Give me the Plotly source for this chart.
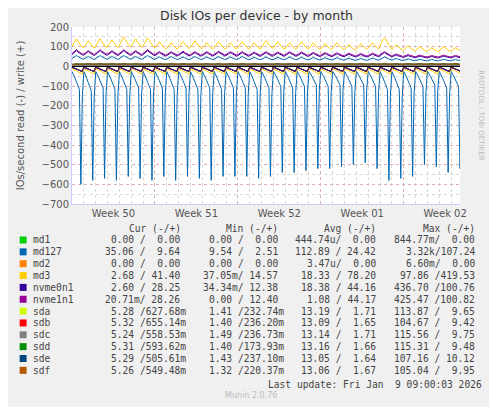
import numpy as np
import pandas as pd
import plotly.graph_objects as go

# daily values (33 days, Dec 8 -> Jan 9)
days = pd.date_range("2025-12-08", periods=33, freq="D")
md127_spike = [-600, -580, -570, -580, -560, -570, -580, -560, -580, -560, -570,
               -580, -560, -560, -560, -570, -560, -540, -540, -530, -520, -520,
               -510, -500, -490, -520, -580, -570, -560, -500, -510, -540, -520]
md127_low = [-150, -160, -140, -150, -150, -140, -150, -140, -150, -140, -150,
             -140, -150, -140, -140, -150, -140, -130, -140, -130, -120, -130,
             -120, -130, -120, -130, -150, -150, -140, -130, -120, -140, -130]
md3_peak = [140, 130, 140, 135, 150, 140, 145, 125, 120, 125, 130, 120, 125,
            120, 125, 120, 130, 125, 120, 125, 120, 115, 120, 110, 115, 120,
            145, 110, 105, 100, 95, 100, 95]
nvme_peak = [80, 75, 80, 75, 80, 75, 80, 70, 70, 72, 70, 70, 72, 70, 70, 68,
             70, 68, 70, 68, 66, 65, 64, 62, 60, 62, 70, 58, 55, 52, 50, 52, 50]
md127_wr = [55, 50, 55, 50, 55, 50, 55, 48, 50, 48, 50, 48, 50, 48, 50, 46,
            48, 46, 48, 46, 45, 44, 44, 42, 40, 42, 48, 40, 38, 36, 35, 36, 35]

# within-day shape (8 samples per day, fraction of the daily range)
ramp_read = [0.05, 0.15, 0.3, 0.45, 0.6, 0.75, 0.9, 1.0]
ramp_write = [0.55, 0.7, 0.9, 1.0, 0.85, 0.7, 0.6, 0.5]
spike_at = 6

t = [d + pd.Timedelta(hours=3 * k) for d in days for k in range(8)]
rd = []
for lo, sp in zip(md127_low, md127_spike):
    v = [-20 + (lo + 20) * f for f in ramp_read]
    v[spike_at] = sp
    rd += v
def wr(peaks, base):
    return [base + (p - base) * f for p in peaks for f in ramp_write]
md3_w = wr(md3_peak, 55)
md3_r = [-10 - 30 * f for p in md3_peak for f in ramp_read]
nv0_w = wr(nvme_peak, 35)
nv1_w = wr([p + 5 for p in nvme_peak], 40)
nv_r = [-5 - 20 * f for p in nvme_peak for f in ramp_read]
m127_w = wr(md127_wr, 20)
sd_w = [5 + 8 * f for p in nvme_peak for f in ramp_write]
sd_r = [-2 - 25 * f for p in nvme_peak for f in ramp_read]

fig = go.Figure()
def line(y, c, w=1):
    fig.add_trace(go.Scatter(x=t, y=y, mode="lines", line=dict(color=c, width=w),
                             showlegend=False, hoverinfo="skip"))
for c in ["#ccff00", "#ff0000", "#808080", "#008f00", "#00487d", "#b35a00"]:
    line(sd_r, c)
    line(sd_w, c)
line(rd, "#0066b3")
line(m127_w, "#0066b3")
line(md3_w, "#ffcc00")
line(md3_r, "#ffcc00")
line(nv0_w, "#330099")
line(nv_r, "#330099")
line(nv1_w, "#990099")
line([0] * len(t), "#000000", 1.5)

grid = "#d8d8d8"
fig.update_xaxes(range=["2025-12-08", "2026-01-09 18:00"], showgrid=True,
                 gridcolor="#e0b0b0", griddash="dot", dtick=7 * 86400000,
                 tick0="2025-12-08", tickformat="Week %V", ticklabelmode="period",
                 minor=dict(dtick=86400000, showgrid=True, gridcolor=grid, griddash="dot"),
                 showline=True, linecolor="#ccccff", ticks="", zeroline=False)
fig.update_yaxes(range=[-700, 200], dtick=100, showgrid=True, gridcolor="#e0b0b0",
                 griddash="dot", minor=dict(dtick=50, showgrid=True, gridcolor=grid, griddash="dot"),
                 showline=True, linecolor="#ccccff", zeroline=False,
                 title=dict(text="IOs/second read (-) / write (+)", font=dict(size=10, color="#555")))

fig.update_layout(width=497, height=407, paper_bgcolor="#f0f0f0", plot_bgcolor="#ffffff",
                  margin=dict(l=59, r=45, t=19, b=211),
                  font=dict(family="DejaVu Sans", size=10, color="#555555"),
                  title=dict(text="Disk IOs per device - by month", x=0.5, y=0.993,
                             yanchor="top", font=dict(size=12.5, color="#333")))

names = ["md1", "md127", "md2", "md3", "nvme0n1", "nvme1n1", "sda", "sdb", "sdc", "sdd", "sde", "sdf"]
colors = ["#00cc00", "#0066b3", "#ff8000", "#ffcc00", "#330099", "#990099",
          "#ccff00", "#ff0000", "#808080", "#008f00", "#00487d", "#b35a00"]
cur = ["0.00 /  0.00", "35.06 /  9.64", "0.00 /  0.00", "2.68 / 41.40", "2.60 / 28.25",
       "20.71m/ 28.26", "5.28 /627.68m", "5.32 /655.14m", "5.24 /558.53m", "5.31 /593.62m",
       "5.29 /505.61m", "5.26 /549.48m"]
mins = ["0.00 /  0.00", "9.54 /  2.51", "0.00 /  0.00", "37.05m/ 14.57", "34.34m/ 12.38",
        "0.00 / 12.40", "1.41 /232.74m", "1.40 /236.20m", "1.49 /236.73m", "1.40 /173.93m",
        "1.43 /237.10m", "1.32 /220.37m"]
avgs = ["444.74u/  0.00", "112.89 / 24.42", "3.47u/  0.00", "18.33 / 78.20", "18.38 / 44.16",
        "1.08 / 44.17", "13.19 /  1.71", "13.09 /  1.65", "13.14 /  1.71", "13.16 /  1.66",
        "13.05 /  1.64", "13.06 /  1.67"]
maxs = ["844.77m/  0.00", "3.32k/107.24", "6.60m/  0.00", "97.86 /419.53", "436.70 /100.76",
        "425.47 /100.82", "113.87 /  9.65", "104.67 /  9.42", "115.56 /  9.75", "115.31 /  9.48",
        "107.16 / 10.12", "105.04 /  9.95"]

mono = dict(family="DejaVu Sans Mono", size=9.6, color="#444444")
def txt(x, y, s, anchor="left", font=mono):
    fig.add_annotation(x=x, y=y, xref="paper", yref="paper", xanchor=anchor, yanchor="middle",
                       text=s.replace(" ", "\u00a0"), showarrow=False, font=font)
def px(xp):
    return (xp - 67) / 393
def py(yp):
    return (204 - yp) / 177

cols = [185, 284, 383, 483]
for j, h in enumerate(["Cur (-/+)", "Min (-/+)", "Avg (-/+)", "Max (-/+)"]):
    txt(px(cols[j] - 6), py(228), h, "right")
for i, n in enumerate(names):
    y = 240 + i * 11.85
    fig.add_shape(type="rect", xref="paper", yref="paper", x0=px(14), x1=px(21),
                  y0=py(y + 3.5), y1=py(y - 3.5), fillcolor=colors[i], line_width=0)
    txt(px(25), py(y), n)
    for j, vals in enumerate([cur, mins, avgs, maxs]):
        s = vals[i]
        if not s.endswith("m") and not s.endswith("k") and not s.endswith("u"):
            s = s + " "
        txt(px(cols[j]), py(y), s, "right")
txt(px(484), py(384), "Last update: Fri Jan  9 09:00:03 2026", "right")
txt(px(248), py(396), "Munin 2.0.76", "center", dict(family="DejaVu Sans", size=8, color="#bbbbbb"))
fig.add_annotation(x=px(487), y=py(115), xref="paper", yref="paper", text="RRDTOOL / TOBI OETIKER",
                   textangle=90, showarrow=False, font=dict(family="DejaVu Sans", size=7, color="#bbbbbb"))

fig.write_html("out.html")
